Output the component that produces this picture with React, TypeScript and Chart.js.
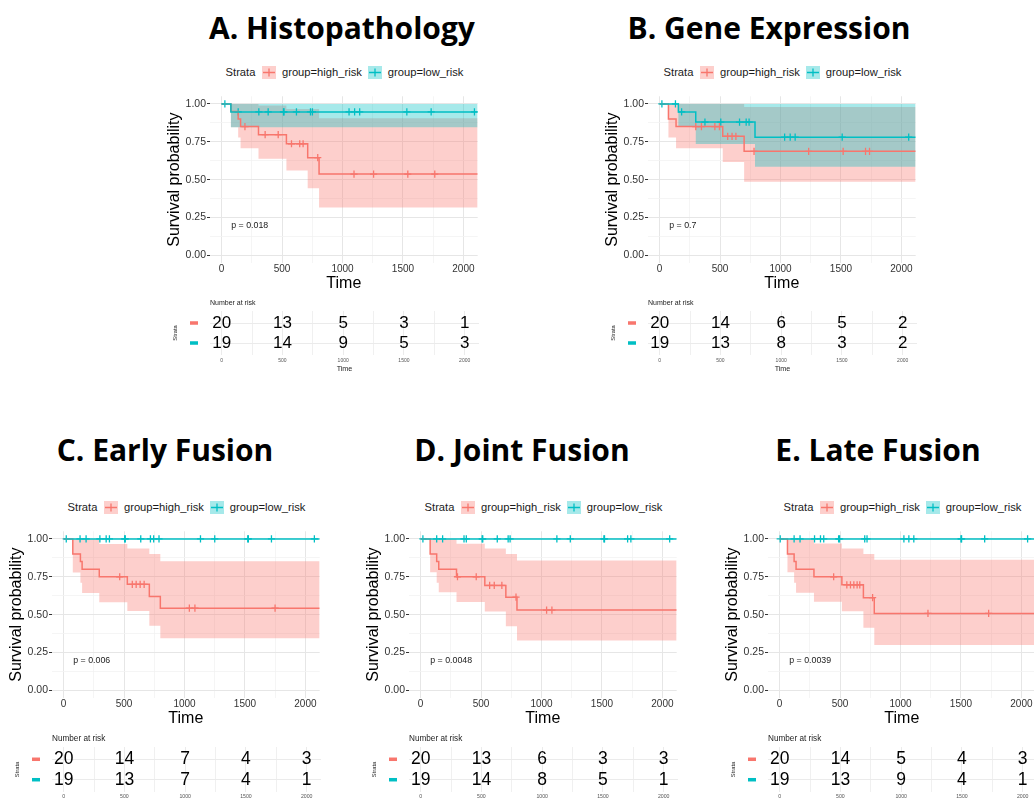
import React, { useEffect, useRef } from "react";
import { Chart, registerables } from "chart.js";

Chart.register(...registerables);

const SANS = '"Liberation Sans", Arial, Helvetica, sans-serif';
const TITLE_FONT = '"Open Sans", "Liberation Sans", sans-serif';
const RED = "#F8766D";
const TEAL = "#00BFC4";
const RED_BAND = "rgba(248,118,109,0.35)";
const TEAL_BAND = "rgba(0,191,196,0.35)";

// ---------- shared axis data ----------
const timeTicks = [0, 250, 500, 750, 1000, 1250, 1500, 1750, 2000];
const survTicks = [0, 0.125, 0.25, 0.375, 0.5, 0.625, 0.75, 0.875, 1];
const riskTimes = [0, 500, 1000, 1500, 2000];
const legendLabels = ["group=high_risk", "group=low_risk"];
const pValuePos = [80, 0.2];

// ---------- A. Histopathology ----------
const aHighTime = [0, 77, 137, 157, 305, 536, 712, 806, 2118];
const aHighSurv = [1, 0.95, 0.9, 0.85, 0.797, 0.737, 0.645, 0.537, 0.537];
const aHighUpper = [1, 1, 1, 1, 0.99, 0.966, 0.966, 0.905, 0.905];
const aHighLower = [1, 0.845, 0.778, 0.708, 0.638, 0.56, 0.444, 0.317, 0.317];
const aHighCensor = [193, 360, 468, 578, 646, 674, 795, 1095, 1257, 1540, 1763];
const aLowTime = [0, 77, 2118];
const aLowSurv = [1, 0.947, 0.947];
const aLowUpper = [1, 1, 1];
const aLowLower = [1, 0.846, 0.846];
const aLowCensor = [27, 137, 308, 385, 512, 516, 619, 735, 751, 1054, 1100, 1142, 1532, 1733, 2091];
const aRiskHigh = [20, 13, 5, 3, 1];
const aRiskLow = [19, 14, 9, 5, 3];
const aPValue = "p = 0.018";

// ---------- B. Gene Expression ----------
const bHighTime = [0, 73, 136, 522, 699, 2118];
const bHighSurv = [1, 0.9, 0.85, 0.786, 0.687, 0.687];
const bHighUpper = [1, 1, 1, 1, 0.98, 0.98];
const bHighLower = [1, 0.778, 0.708, 0.617, 0.486, 0.486];
const bHighCensor = [299, 346, 457, 495, 563, 599, 631, 781, 1233, 1518, 1703, 1736];
const bLowTime = [0, 155, 299, 789, 2118];
const bLowSurv = [1, 0.947, 0.88, 0.78, 0.78];
const bLowUpper = [1, 1, 1, 1, 1];
const bLowLower = [1, 0.85, 0.736, 0.585, 0.585];
const bLowCensor = [19, 131, 182, 375, 506, 661, 716, 740, 1034, 1080, 1121, 1510, 2060];
const bRiskHigh = [20, 14, 6, 5, 2];
const bRiskLow = [19, 13, 8, 3, 2];
const bPValue = "p = 0.7";

// ---------- C. Early Fusion ----------
const cHighTime = [0, 76, 139, 153, 295, 527, 709, 800, 2118];
const cHighSurv = [1, 0.9, 0.85, 0.8, 0.75, 0.7, 0.619, 0.543, 0.543];
const cHighUpper = [1, 1, 1, 1, 0.966, 0.937, 0.9, 0.852, 0.852];
const cHighLower = [1, 0.778, 0.71, 0.643, 0.581, 0.524, 0.427, 0.345, 0.345];
const cHighCensor = [464, 568, 600, 633, 666, 1040, 1086, 1749];
const cLowTime = [0, 2118];
const cLowSurv = [1, 1];
const cLowUpper = [1, 1];
const cLowLower = [1, 1];
const cLowCensor = [22, 136, 186, 300, 352, 379, 505, 510, 638, 718, 745, 789, 1132, 1250, 1523, 1528, 1719, 2074];
const cRiskHigh = [20, 14, 7, 4, 3];
const cRiskLow = [19, 13, 7, 4, 1];
const cPValue = "p = 0.006";

// ---------- D. Joint Fusion ----------
const dHighTime = [0, 79, 133, 150, 297, 531, 705, 797, 2118];
const dHighSurv = [1, 0.9, 0.85, 0.8, 0.75, 0.693, 0.615, 0.53, 0.53];
const dHighUpper = [1, 1, 1, 1, 0.968, 0.937, 0.9, 0.858, 0.858];
const dHighLower = [1, 0.78, 0.71, 0.647, 0.584, 0.52, 0.423, 0.33, 0.33];
const dHighCensor = [305, 460, 571, 609, 672, 789, 1042, 1086];
const dLowTime = [0, 2118];
const dLowSurv = [1, 1];
const dLowUpper = [1, 1];
const dLowLower = [1, 1];
const dLowCensor = [19, 133, 182, 359, 378, 509, 514, 634, 724, 740, 1127, 1238, 1516, 1521, 1712, 1739, 2060];
const dRiskHigh = [20, 13, 6, 3, 3];
const dRiskLow = [19, 14, 8, 5, 1];
const dPValue = "p = 0.0048";

// ---------- E. Late Fusion ----------
const eHighTime = [0, 65, 120, 136, 284, 515, 693, 783, 2118];
const eHighSurv = [1, 0.9, 0.85, 0.8, 0.75, 0.697, 0.612, 0.508, 0.508];
const eHighUpper = [1, 1, 1, 1, 0.97, 0.936, 0.9, 0.862, 0.862];
const eHighLower = [1, 0.78, 0.71, 0.645, 0.585, 0.523, 0.413, 0.3, 0.3];
const eHighCensor = [447, 556, 586, 614, 641, 663, 769, 1227, 1729];
const eLowTime = [0, 2118];
const eLowSurv = [1, 1];
const eLowUpper = [1, 1];
const eLowLower = [1, 1];
const eLowCensor = [5, 120, 169, 289, 338, 365, 488, 496, 704, 723, 1028, 1069, 1110, 1500, 1505, 1696, 2051];
const eRiskHigh = [20, 14, 5, 4, 3];
const eRiskLow = [19, 13, 9, 4, 1];
const ePValue = "p = 0.0039";

// ---------- geometry ----------
const X_MIN = -96;
const X_MAX = 2118;
const AREA_W = 269;
const AREA_H = 174;
const Y_AXIS_W = 52;
const X_AXIS_H = 32;

type Group = {
  time: number[];
  surv: number[];
  upper: number[];
  lower: number[];
  censor: number[];
  risk: number[];
};

type Panel = {
  title: string;
  high: Group;
  low: Group;
  pValue: string;
  areaLeft: number;
  areaTop: number;
  titleX: number;
  titleY: number;
  riskTop: number;
  riskArea: number;
  numSize: number;
  headSize: number;
  tickSize: number;
  tickPad: number;
};

const g = (time: number[], surv: number[], upper: number[], lower: number[], censor: number[], risk: number[]): Group => ({
  time, surv, upper, lower, censor, risk,
});

const panels: Panel[] = [
  {
    title: "A. Histopathology",
    high: g(aHighTime, aHighSurv, aHighUpper, aHighLower, aHighCensor, aRiskHigh),
    low: g(aLowTime, aLowSurv, aLowUpper, aLowLower, aLowCensor, aRiskLow),
    pValue: aPValue,
    areaLeft: 210, areaTop: 89, titleX: 342, titleY: 29,
    riskTop: 297, riskArea: 44, numSize: 17, headSize: 7, tickSize: 5, tickPad: 3,
  },
  {
    title: "B. Gene Expression",
    high: g(bHighTime, bHighSurv, bHighUpper, bHighLower, bHighCensor, bRiskHigh),
    low: g(bLowTime, bLowSurv, bLowUpper, bLowLower, bLowCensor, bRiskLow),
    pValue: bPValue,
    areaLeft: 648, areaTop: 89, titleX: 769, titleY: 29,
    riskTop: 297, riskArea: 44, numSize: 17, headSize: 7, tickSize: 5, tickPad: 3,
  },
  {
    title: "C. Early Fusion",
    high: g(cHighTime, cHighSurv, cHighUpper, cHighLower, cHighCensor, cRiskHigh),
    low: g(cLowTime, cLowSurv, cLowUpper, cLowLower, cLowCensor, cRiskLow),
    pValue: cPValue,
    areaLeft: 52, areaTop: 524, titleX: 165, titleY: 451,
    riskTop: 733, riskArea: 45, numSize: 17.5, headSize: 8.2, tickSize: 5.2, tickPad: 1,
  },
  {
    title: "D. Joint Fusion",
    high: g(dHighTime, dHighSurv, dHighUpper, dHighLower, dHighCensor, dRiskHigh),
    low: g(dLowTime, dLowSurv, dLowUpper, dLowLower, dLowCensor, dRiskLow),
    pValue: dPValue,
    areaLeft: 409, areaTop: 524, titleX: 522, titleY: 451,
    riskTop: 733, riskArea: 45, numSize: 17.5, headSize: 8.2, tickSize: 5.2, tickPad: 1,
  },
  {
    title: "E. Late Fusion",
    high: g(eHighTime, eHighSurv, eHighUpper, eHighLower, eHighCensor, eRiskHigh),
    low: g(eLowTime, eLowSurv, eLowUpper, eLowLower, eLowCensor, eRiskLow),
    pValue: ePValue,
    areaLeft: 768, areaTop: 524, titleX: 878, titleY: 451,
    riskTop: 733, riskArea: 45, numSize: 17.5, headSize: 8.2, tickSize: 5.2, tickPad: 1,
  },
];

const isMajorX = (v: number) => Math.abs(v % 500) < 1e-6;
const isMajorY = (v: number) => Math.abs(v * 4 - Math.round(v * 4)) < 1e-6;
const pts = (t: number[], s: number[]) => t.map((x, i) => ({ x, y: s[i] }));
const survAt = (grp: Group, t: number) => {
  let v = grp.surv[0];
  grp.time.forEach((x, i) => {
    if (x <= t) v = grp.surv[i];
  });
  return v;
};

function KMPlot({ p }: { p: Panel }) {
  const ref = useRef<HTMLCanvasElement>(null);
  useEffect(() => {
    const bandLine = (data: any, fill: any, color: string) => ({
      data,
      borderWidth: 0,
      borderColor: "rgba(0,0,0,0)",
      backgroundColor: color,
      pointRadius: 0,
      stepped: "before",
      fill,
    });
    const chart = new Chart(ref.current as HTMLCanvasElement, {
      type: "line",
      data: {
        datasets: [
          { data: pts(p.low.time, p.low.surv), borderColor: TEAL, borderWidth: 1.5, stepped: "before", pointRadius: 0, fill: false },
          { data: pts(p.high.time, p.high.surv), borderColor: RED, borderWidth: 1.5, stepped: "before", pointRadius: 0, fill: false },
          {
            data: p.low.censor.map((t) => ({ x: t, y: survAt(p.low, t) })),
            showLine: false, pointStyle: "cross", pointRadius: 3.6, pointBorderWidth: 1.3,
            borderColor: TEAL, backgroundColor: TEAL,
          },
          {
            data: p.high.censor.map((t) => ({ x: t, y: survAt(p.high, t) })),
            showLine: false, pointStyle: "cross", pointRadius: 3.6, pointBorderWidth: 1.3,
            borderColor: RED, backgroundColor: RED,
          },
          bandLine(pts(p.low.time, p.low.upper), 5, TEAL_BAND),
          bandLine(pts(p.low.time, p.low.lower), false, "rgba(0,0,0,0)"),
          bandLine(pts(p.high.time, p.high.upper), 7, RED_BAND),
          bandLine(pts(p.high.time, p.high.lower), false, "rgba(0,0,0,0)"),
        ] as any,
      },
      options: {
        responsive: false,
        animation: false,
        events: [],
        layout: { padding: { left: 0, right: 4, top: 0, bottom: 0 } },
        plugins: { legend: { display: false }, tooltip: { enabled: false } },
        scales: {
          x: {
            type: "linear",
            min: X_MIN,
            max: X_MAX,
            afterBuildTicks: (s: any) => {
              s.ticks = timeTicks.map((v) => ({ value: v }));
            },
            afterFit: (s: any) => {
              s.height = X_AXIS_H;
            },
            ticks: {
              autoSkip: false,
              maxRotation: 0,
              padding: 0,
              color: "#333",
              font: { family: SANS, size: 10 },
              callback: (v: any) => (isMajorX(Number(v)) ? String(v) : ""),
            },
            grid: {
              drawTicks: false,
              color: (c: any) => (c.tick && isMajorX(c.tick.value) ? "#E6E6E6" : "#F3F3F3"),
              lineWidth: (c: any) => (c.tick && isMajorX(c.tick.value) ? 1 : 0.8),
            },
            border: { display: false },
            title: { display: true, text: "Time", color: "#000", font: { family: SANS, size: 16 }, padding: { top: 0, bottom: 1.4 } },
          },
          y: {
            type: "linear",
            min: -0.05,
            max: 1.05,
            afterBuildTicks: (s: any) => {
              s.ticks = survTicks.map((v) => ({ value: v }));
            },
            afterFit: (s: any) => {
              s.width = Y_AXIS_W;
            },
            ticks: {
              autoSkip: false,
              padding: 1,
              color: "#333",
              font: { family: SANS, size: 10.5 },
              callback: (v: any) => (isMajorY(Number(v)) ? Number(v).toFixed(2) : ""),
            },
            grid: {
              drawTicks: true,
              tickLength: 3,
              tickColor: (c: any) => (c.tick && isMajorY(c.tick.value) ? "#333" : "rgba(0,0,0,0)"),
              color: (c: any) => (c.tick && isMajorY(c.tick.value) ? "#E6E6E6" : "#F3F3F3"),
              lineWidth: (c: any) => (c.tick && isMajorY(c.tick.value) ? 1 : 0.8),
            },
            border: { display: false },
            title: { display: true, text: "Survival probability", color: "#000", font: { family: SANS, size: 16 }, padding: { top: 7.4, bottom: 0 } },
          },
        },
      } as any,
      plugins: [
        {
          id: "pvalue",
          afterDatasetsDraw(chart: any) {
            const { ctx, scales } = chart;
            ctx.save();
            ctx.font = `8.8px ${SANS}`;
            ctx.fillStyle = "#1a1a1a";
            ctx.textAlign = "left";
            ctx.textBaseline = "middle";
            ctx.fillText(p.pValue, scales.x.getPixelForValue(pValuePos[0]), scales.y.getPixelForValue(pValuePos[1]));
            ctx.restore();
          },
        },
      ],
    });
    return () => chart.destroy();
  }, [p]);
  return (
    <canvas
      ref={ref}
      width={Y_AXIS_W + AREA_W + 4}
      height={AREA_H + X_AXIS_H}
      style={{ position: "absolute", left: p.areaLeft - Y_AXIS_W, top: p.areaTop }}
    />
  );
}

function RiskTable({ p }: { p: Panel }) {
  const ref = useRef<HTMLCanvasElement>(null);
  const padTop = 14;
  const xH = 20;
  useEffect(() => {
    const chart = new Chart(ref.current as HTMLCanvasElement, {
      type: "line",
      data: { datasets: [] },
      options: {
        responsive: false,
        animation: false,
        events: [],
        layout: { padding: { left: 0, right: 4, top: padTop, bottom: 0 } },
        plugins: { legend: { display: false }, tooltip: { enabled: false } },
        scales: {
          x: {
            type: "linear",
            min: X_MIN,
            max: X_MAX,
            afterBuildTicks: (s: any) => {
              s.ticks = timeTicks.map((v) => ({ value: v }));
            },
            afterFit: (s: any) => {
              s.height = xH;
            },
            ticks: {
              autoSkip: false,
              maxRotation: 0,
              padding: p.tickPad,
              color: "#555",
              font: { family: SANS, size: p.tickSize },
              callback: (v: any) => (isMajorX(Number(v)) ? String(v) : ""),
            },
            grid: {
              drawTicks: false,
              color: (c: any) => (c.tick && isMajorX(c.tick.value) ? "#EBEBEB" : "#F0F0F0"),
              lineWidth: 1,
            },
            border: { display: false },
            title: { display: true, text: "Time", color: "#222", font: { family: SANS, size: 7.2 }, padding: { top: 0, bottom: 1.7 } },
          },
          y: {
            type: "linear",
            min: 0.4,
            max: 2.6,
            afterBuildTicks: (s: any) => {
              s.ticks = [{ value: 1 }, { value: 2 }];
            },
            afterFit: (s: any) => {
              s.width = Y_AXIS_W;
            },
            ticks: { display: false },
            grid: { drawTicks: false, color: "#EBEBEB", lineWidth: 1 },
            border: { display: false },
            title: { display: true, text: "Strata", color: "#222", font: { family: SANS, size: 5.8 }, padding: { top: 13.5, bottom: 0 } },
          },
        },
      } as any,
      plugins: [
        {
          id: "riskText",
          afterDatasetsDraw(chart: any) {
            const { ctx, chartArea, scales } = chart;
            const yHigh = scales.y.getPixelForValue(2);
            const yLow = scales.y.getPixelForValue(1);
            ctx.save();
            ctx.font = `${p.numSize}px ${SANS}`;
            ctx.fillStyle = "#000";
            ctx.textAlign = "center";
            ctx.textBaseline = "middle";
            riskTimes.forEach((t, i) => {
              const x = scales.x.getPixelForValue(t);
              ctx.fillText(String(p.high.risk[i]), x, yHigh);
              ctx.fillText(String(p.low.risk[i]), x, yLow);
            });
            ctx.fillStyle = RED;
            ctx.fillRect(chartArea.left - 20, yHigh - 1.75, 8, 3.5);
            ctx.fillStyle = TEAL;
            ctx.fillRect(chartArea.left - 20, yLow - 1.75, 8, 3.5);
            ctx.font = `${p.headSize}px ${SANS}`;
            ctx.fillStyle = "#222";
            ctx.textAlign = "left";
            ctx.fillText("Number at risk", chartArea.left, chartArea.top - 8.3);
            ctx.restore();
          },
        },
      ],
    });
    return () => chart.destroy();
  }, [p]);
  return (
    <canvas
      ref={ref}
      width={Y_AXIS_W + AREA_W + 4}
      height={padTop + p.riskArea + xH}
      style={{ position: "absolute", left: p.areaLeft - Y_AXIS_W, top: p.riskTop }}
    />
  );
}

function Swatch({ color, fill }: { color: string; fill: string }) {
  return (
    <svg width="14" height="13" style={{ display: "block" }}>
      <rect x="0" y="0" width="14" height="13" fill={fill} />
      <line x1="1" y1="6.5" x2="13" y2="6.5" stroke={color} strokeWidth="1.5" />
      <line x1="7" y1="2.5" x2="7" y2="10.5" stroke={color} strokeWidth="1.3" />
    </svg>
  );
}

function Legend({ p }: { p: Panel }) {
  return (
    <div
      style={{
        position: "absolute",
        left: p.areaLeft,
        top: p.areaTop - 16.7 - 7,
        width: AREA_W,
        height: 14,
        display: "flex",
        alignItems: "center",
        justifyContent: "center",
        fontFamily: SANS,
        fontSize: 11.2,
        color: "#1a1a1a",
        whiteSpace: "nowrap",
      }}
    >
      <span style={{ marginRight: 6.5 }}>Strata</span>
      <Swatch color={RED} fill={RED_BAND} />
      <span style={{ marginLeft: 6, marginRight: 6 }}>{legendLabels[0]}</span>
      <Swatch color={TEAL} fill={TEAL_BAND} />
      <span style={{ marginLeft: 6 }}>{legendLabels[1]}</span>
    </div>
  );
}

function PanelView({ p }: { p: Panel }) {
  return (
    <>
      <div
        style={{
          position: "absolute",
          left: p.titleX - 300,
          width: 600,
          top: p.titleY - 21,
          fontFamily: TITLE_FONT,
          fontWeight: 700,
          fontSize: 30,
          lineHeight: "40px",
          textAlign: "center",
          color: "#000",
          whiteSpace: "nowrap",
        }}
      >
        {p.title}
      </div>
      <Legend p={p} />
      <KMPlot p={p} />
      <RiskTable p={p} />
    </>
  );
}

export default function App() {
  return (
    <div
      style={{
        position: "absolute",
        left: 0,
        top: 0,
        width: 1034,
        height: 799,
        overflow: "hidden",
        background: "#fff",
      }}
    >
      {panels.map((p) => (
        <PanelView key={p.title} p={p} />
      ))}
    </div>
  );
}
